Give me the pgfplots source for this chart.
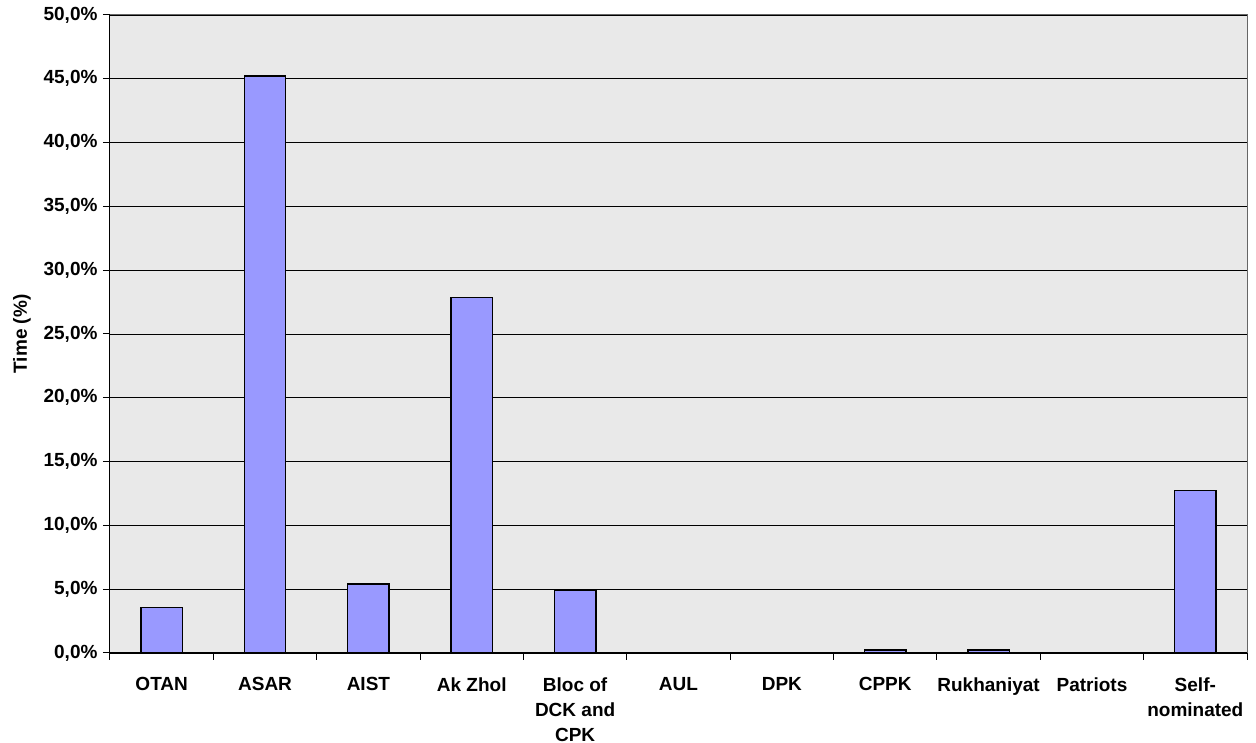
\documentclass[border=0pt]{standalone}
\usepackage{fontspec}
\setmainfont{Liberation Sans}
\usepackage{pgfplots}
\pgfplotsset{compat=1.18}

\definecolor{barblue}{RGB}{153,153,255}
\definecolor{plotbg}{RGB}{233,233,233}

\begin{document}
\begin{tikzpicture}
\path[use as bounding box] (-110pt,-90pt) rectangle (1146pt,653pt);
\begin{axis}[
  scale only axis,
  width=1137pt, height=638pt,
  at={(0pt,0pt)}, anchor=south west,
  xmin=-0.5, xmax=10.5,
  ymin=0, ymax=50,
  axis lines*=left,
  axis line style={-, black, line width=1pt},
  axis background/.style={fill=plotbg, draw=gray!80!black, line width=1pt},
  ymajorgrids,
  grid style={black, line width=0.8pt},
  ytick={0,5,...,50},
  yticklabel={\pgfmathprintnumber[fixed,fixed zerofill,precision=1,use comma]{\tick}\%},
  /pgf/number format/assume math mode=true,
  xtick={0,...,10},
  xticklabels={OTAN,ASAR,AIST,Ak Zhol,{Bloc of\\DCK and\\CPK},AUL,DPK,CPPK,Rukhaniyat,Patriots,{Self-\\nominated}},
  major x tick style={draw=none},
  minor xtick={-0.5,0.5,...,10.5},
  minor x tick style={black, line width=1pt},
  minor tick length=7pt,
  major tick length=7pt,
  tick align=outside,
  tick style={black, line width=1pt},
  xticklabel style={align=center, anchor=north, yshift=-14pt, font=\fontsize{19}{25}\selectfont\bfseries},
  yticklabel style={font=\fontsize{19}{22}\selectfont\bfseries, xshift=-2pt},
  ylabel={Time (\%)},
  every axis y label/.style={at={(-88pt,319pt)}, rotate=90, anchor=center, font=\fontsize{19}{22}\selectfont\bfseries},
]
\addplot[ybar, bar width=0.4, fill=barblue, draw=black, line width=1.5pt]
  coordinates {
    (0,3.55)
    (1,45.2)
    (2,5.4)
    (3,27.85)
    (4,4.9)
    (7,0.25)
    (8,0.25)
    (10,12.75)
  };
\end{axis}
\end{tikzpicture}
\end{document}
